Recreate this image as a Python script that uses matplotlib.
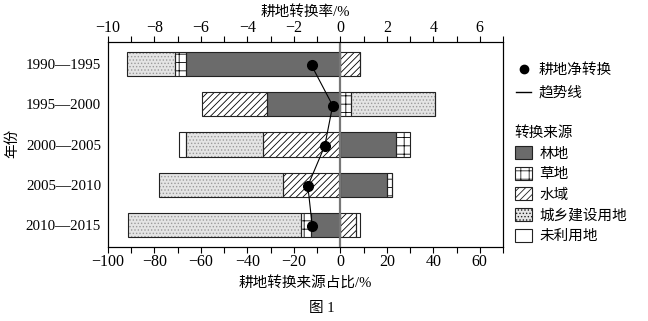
import numpy as np
import matplotlib.pyplot as plt
from matplotlib.patches import Patch
from matplotlib.lines import Line2D

plt.rcParams['font.family'] = ['Liberation Serif', 'Noto Sans CJK SC']
plt.rcParams['font.size'] = 10
plt.rcParams['hatch.linewidth'] = 0.6

years = ['1990—1995', '1995—2000', '2000—2005', '2005—2010', '2010—2015']
# source shares (%), negative = left of zero
forest = [-66.4, -31.4, 23.9, 20.0, -12.6]
grass = [-4.6, 4.6, 6.1, 2.1, -4.4]
water = [8.6, -28.2, -33.1, -24.6, 6.7]
urban = [-20.7, 36.1, -33.3, -53.3, -74.4]
unused = [0.0, 0.0, -3.2, 0.0, 1.9]
# net conversion rate (%), top axis
net_rate = [-1.24, -0.33, -0.67, -1.40, -1.21]

sources = ['林地', '草地', '水域', '城乡建设用地', '未利用地']
styles = [
    dict(facecolor='#6b6b6b', hatch='', hcolor='#6b6b6b'),
    dict(facecolor='white', hatch='++', hcolor='black'),
    dict(facecolor='white', hatch='/////', hcolor='black'),
    dict(facecolor='#e4e4e4', hatch='.....', hcolor='#9a9a9a'),
    dict(facecolor='white', hatch='', hcolor='white'),
]
data = [forest, grass, water, urban, unused]

fig = plt.figure(figsize=(6.48, 3.21), dpi=100)
ax = fig.add_axes([0.1667, 0.2305, 0.6095, 0.6385])

y = np.arange(len(years))
h = 0.6
pos_base = np.zeros(len(years))
neg_base = np.zeros(len(years))
for vals, st in zip(data, styles):
    vals = np.array(vals)
    left = np.where(vals >= 0, pos_base, neg_base + vals)
    w = np.abs(vals)
    ax.barh(y, w, left=left, height=h, color=st['facecolor'],
            hatch=st['hatch'], edgecolor=st['hcolor'], linewidth=0, zorder=2)
    ax.barh(y, w, left=left, height=h, fill=False,
            edgecolor='#222222', linewidth=0.8, zorder=3)
    pos_base = pos_base + np.where(vals > 0, vals, 0)
    neg_base = neg_base + np.where(vals < 0, vals, 0)

ax.axvline(0, color='#777777', linewidth=1.6, zorder=4)

ax.set_xlim(-100, 70)
ax.set_ylim(len(years) - 0.45, -0.55)
ax.set_yticks(y)
ax.set_yticklabels(years, fontsize=10.8)
ax.tick_params(axis='y', length=0, pad=5)
ax.set_xticks(np.arange(-100, 61, 20))
ax.set_xticks(np.arange(-100, 71, 10), minor=True)
ax.set_xticklabels([f'{v:d}'.replace('-', '−') for v in range(-100, 61, 20)],
                   fontsize=11.5)
ax.tick_params(axis='x', which='both', direction='out', length=4, width=0.8, pad=1)
ax.set_xlabel('耕地转换来源占比/%', labelpad=4, fontsize=10.5)
fig.text(12 / 648, 1 - 143 / 321, '年份', rotation=90, ha='center',
         va='center', fontsize=10.5)

ax2 = ax.twiny()
ax2.set_xlim(-10, 7)
ax2.set_xticks(np.arange(-10, 7, 2))
ax2.set_xticks(np.arange(-10, 8, 1), minor=True)
ax2.set_xticklabels([f'{v:d}'.replace('-', '−') for v in range(-10, 7, 2)],
                    fontsize=11.5)
ax2.tick_params(axis='x', which='both', direction='out', length=4, width=0.8, pad=0)
ax2.set_xlabel('耕地转换率/%', labelpad=3, fontsize=10.5)
ax2.plot(net_rate, y + 0.03, color='black', linewidth=0.8, marker='o',
         markersize=7, zorder=5)

for a in (ax, ax2):
    for s in a.spines.values():
        s.set_linewidth(0.8)

h1 = [Line2D([], [], color='black', marker='o', linestyle='none', markersize=6),
      Line2D([], [], color='black', linewidth=1)]
leg1 = fig.legend(h1, ['耕地净转换', '趋势线'], loc='upper left',
                  bbox_to_anchor=(0.788, 0.82), frameon=False, handlelength=1.0,
                  handletextpad=0.5, labelspacing=0.6, borderaxespad=0,
                  fontsize=10.5)
h2 = [Patch(facecolor=st['facecolor'], hatch=st['hatch'], edgecolor='#222222',
            linewidth=0.8) for st in styles]
leg2 = fig.legend(h2, sources, loc='upper left', bbox_to_anchor=(0.785, 0.625),
                  frameon=False, title='转换来源', alignment='left',
                  title_fontsize=10.5, fontsize=10.5,
                  handlelength=1.2, handleheight=1.0, handletextpad=0.5,
                  labelspacing=0.42, borderaxespad=0)
fig.text(0.497, 0.02, '图 1', ha='center', va='bottom', fontsize=10.5)

fig.savefig('out.png', dpi=100)
